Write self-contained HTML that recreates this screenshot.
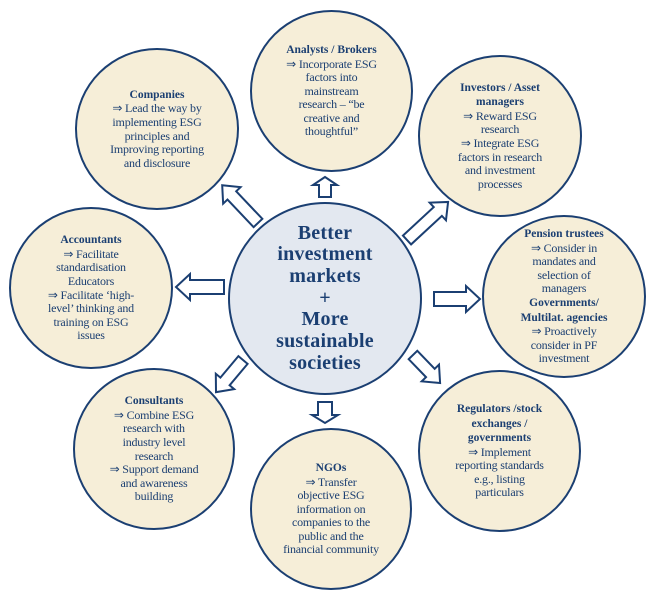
<!DOCTYPE html>
<html><head><meta charset="utf-8"><style>
body{margin:0;background:#fff;width:654px;height:592px;position:relative;overflow:hidden;font-family:"Liberation Serif",serif;color:#1b3f72}
.c{position:absolute;border:2px solid #1b3f72;border-radius:50%;background:#f6eed8;box-sizing:border-box;display:flex;align-items:center;justify-content:center;text-align:center;font-size:12px;line-height:13.6px;letter-spacing:-0.2px}
.c b{font-size:11.5px;letter-spacing:0}
.m{background:#e3e8f0;font-weight:bold;font-size:20px;line-height:21.7px;letter-spacing:0.2px}
svg{position:absolute;left:0;top:0}
</style></head><body>
<div class="c" style="left:75px;top:48px;width:164px;height:162px"><div><b>Companies</b><br>⇒ Lead the way by<br>implementing ESG<br>principles and<br>Improving reporting<br>and disclosure</div></div>
<div class="c" style="left:250px;top:10px;width:163px;height:162px"><div><b>Analysts / Brokers</b><br>⇒ Incorporate ESG<br>factors into<br>mainstream<br>research – “be<br>creative and<br>thoughtful”</div></div>
<div class="c" style="left:418px;top:55px;width:164px;height:162px"><div><b>Investors / Asset<br>managers</b><br>⇒ Reward ESG<br>research<br>⇒ Integrate ESG<br>factors in research<br>and investment<br>processes</div></div>
<div class="c" style="left:9px;top:207px;width:164px;height:162px"><div><b>Accountants</b><br>⇒ Facilitate<br>standardisation<br>Educators<br>⇒ Facilitate ‘high-<br>level’ thinking and<br>training on ESG<br>issues</div></div>
<div class="c" style="left:482px;top:215px;width:164px;height:163px"><div><b>Pension trustees</b><br>⇒ Consider in<br>mandates and<br>selection of<br>managers<br><b>Governments/<br>Multilat. agencies</b><br>⇒ Proactively<br>consider in PF<br>investment</div></div>
<div class="c" style="left:73px;top:368px;width:162px;height:162px"><div><b>Consultants</b><br>⇒ Combine ESG<br>research with<br>industry level<br>research<br>⇒ Support demand<br>and awareness<br>building</div></div>
<div class="c" style="left:250px;top:428px;width:162px;height:162px"><div><b>NGOs</b><br>⇒ Transfer<br>objective ESG<br>information on<br>companies to the<br>public and the<br>financial community</div></div>
<div class="c" style="left:418px;top:370px;width:163px;height:162px"><div><b>Regulators /stock<br>exchanges /<br>governments</b><br>⇒ Implement<br>reporting standards<br>e.g., listing<br>particulars</div></div>
<div class="c m" style="left:228px;top:202px;width:194px;height:193px"><div>Better<br>investment<br>markets<br>+<br>More<br>sustainable<br>societies</div></div>
<svg width="654" height="592" viewBox="0 0 654 592">
<g fill="#fff" stroke="#1b3f72" stroke-width="2" stroke-linejoin="miter">
<polygon transform="translate(325,197) rotate(-90)" points="0,-6 12,-6 12,-12 20,0 12,12 12,6 0,6"/>
<polygon transform="translate(325,402) rotate(90)" points="0,-7 13,-7 13,-13 21,0 13,13 13,7 0,7"/>
<polygon transform="translate(258,223) rotate(-133.5)" points="0,-6 38,-6 38,-12 52,0 38,12 38,6 0,6"/>
<polygon transform="translate(407,240) rotate(-42.8)" points="0,-6 42,-6 42,-12 56,0 42,12 42,6 0,6"/>
<polygon transform="translate(224,287) rotate(180)" points="0,-7 34,-7 34,-13 48,0 34,13 34,7 0,7"/>
<polygon transform="translate(434,299)" points="0,-7 32,-7 32,-13 46,0 32,13 32,7 0,7"/>
<polygon transform="translate(243,360) rotate(130)" points="0,-6 28,-6 28,-12 42,0 28,12 28,6 0,6"/>
<polygon transform="translate(413,355) rotate(46)" points="0,-6 25,-6 25,-12 39,0 25,12 25,6 0,6"/>
</g></svg>
</body></html>
